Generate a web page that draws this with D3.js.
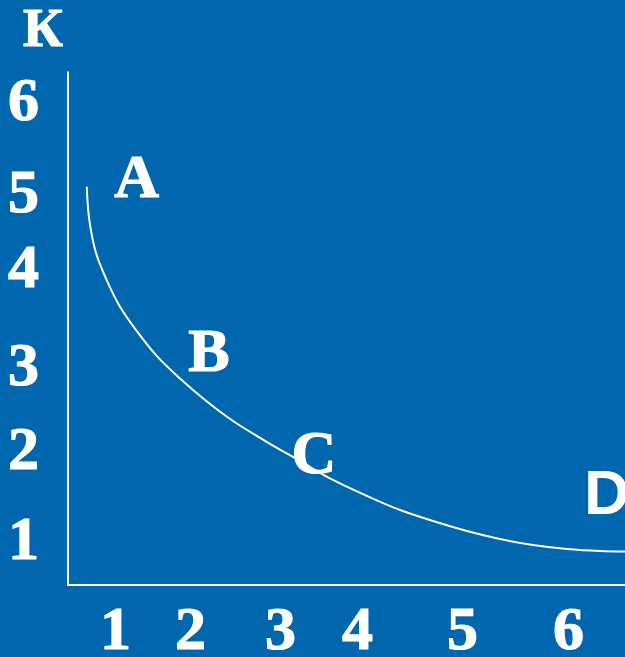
<!DOCTYPE html>
<html>
<head>
<meta charset="utf-8">
<script src="https://cdn.jsdelivr.net/npm/d3@7.9.0/dist/d3.min.js"></script>
<style>
  html, body { margin: 0; padding: 0; background: #0066ad; }
  svg { display: block; }
  .serif { font-family: "Liberation Serif", "Times New Roman", serif; font-weight: bold; fill: #fff; stroke: #fff; stroke-width: 1.2px; }
  .sans { font-family: "Liberation Sans", Arial, sans-serif; font-weight: bold; fill: #fff; }
</style>
</head>
<body>
<svg width="625" height="657"></svg>
<script>
// tick labels on both axes (the slide spaces them unevenly)
const xTicks = [1, 2, 3, 4, 5, 6];
const yTicks = [1, 2, 3, 4, 5, 6];

// the curve in axis units
const curveX = [0.398, 0.453, 0.596, 0.823, 1.067, 1.289, 1.556, 1.867, 2.167, 2.478, 2.856, 3.260,
                3.688, 4.095, 4.410, 4.724, 5.047, 5.358, 5.670, 5.991, 6.302, 6.538, 6.774];
const curveY = [5.058, 4.627, 4.187, 3.867, 3.595, 3.348, 3.093, 2.839, 2.583, 2.333, 2.083, 1.867,
                1.656, 1.478, 1.322, 1.200, 1.089, 1.000, 0.870, 0.783, 0.739, 0.728, 0.728];

// point labels
const pointNames = ['A', 'B', 'C', 'D'];
const pointX = [1.29, 2.21, 3.44, 6.15];
const pointY = [4.93, 2.93, 1.73, 1.28];

const svg = d3.select('svg');

// hand drawn axes, so the scales are piecewise linear
const x = d3.scaleLinear()
    .domain([0, 1, 2, 3, 4, 5, 6, 7])
    .range([68, 115, 190, 280, 357, 462, 568, 674]);
const y = d3.scaleLinear()
    .domain([0, 1, 2, 3, 4, 5, 6, 7])
    .range([585, 539, 449, 365, 267, 192, 100, 8]);

// axis lines
svg.append('path')
    .attr('d', d3.line()([[x(0), y(6.31)], [x(0), y(0)], [x(6.7), y(0)]]))
    .attr('fill', 'none')
    .attr('stroke', '#fff')
    .attr('stroke-width', 2);

// y tick labels
const yAxis = svg.append('g')
    .attr('transform', `translate(${x(0)},0)`)
    .call(d3.axisLeft(y).tickValues(yTicks).tickSize(0).tickPadding(29).tickFormat(d3.format('d')));
yAxis.select('.domain').remove();
yAxis.selectAll('text').attr('class', 'serif').style('font-size', '62px').attr('fill', '#fff');

// x tick labels
const xAxis = svg.append('g')
    .attr('transform', `translate(0,${y(0)})`)
    .call(d3.axisBottom(x).tickValues(xTicks).tickSize(0).tickPadding(20).tickFormat(d3.format('d')));
xAxis.select('.domain').remove();
xAxis.selectAll('text').attr('class', 'serif').style('font-size', '62px').attr('fill', '#fff');

// axis title
svg.append('text')
    .attr('class', 'serif')
    .attr('x', 43)
    .attr('y', 46)
    .attr('text-anchor', 'middle')
    .style('font-size', '55px')
    .text('К');

// the curve
const pts = curveX.map((d, i) => [d, curveY[i]]);
svg.append('path')
    .datum(pts)
    .attr('d', d3.line().x(d => x(d[0])).y(d => y(d[1])).curve(d3.curveCatmullRom.alpha(0.5)))
    .attr('fill', 'none')
    .attr('stroke', '#fff')
    .attr('stroke-width', 2);

// point labels (D is set in a sans face on the slide)
pointNames.forEach((name, i) => {
    svg.append('text')
        .attr('class', name === 'D' ? 'sans' : 'serif')
        .attr('x', x(pointX[i]))
        .attr('y', y(pointY[i]))
        .attr('text-anchor', name === 'D' ? 'start' : 'middle')
        .style('font-size', name === 'D' ? '63px' : '62px')
        .text(name);
});
</script>
</body>
</html>
